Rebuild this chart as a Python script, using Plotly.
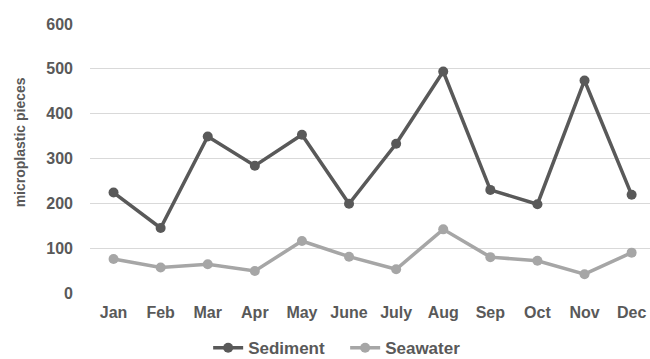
import plotly.graph_objects as go

months = ["Jan", "Feb", "Mar", "Apr", "May", "June", "July", "Aug", "Sep", "Oct", "Nov", "Dec"]
sediment = [224, 145, 349, 284, 353, 199, 333, 494, 230, 198, 474, 219]
seawater = [76, 57, 64, 49, 116, 81, 53, 142, 80, 72, 42, 90]
y_ticks = [0, 100, 200, 300, 400, 500, 600]

FONT = "Liberation Sans, Arial, sans-serif"
TEXT_COLOR = "#595959"

fig = go.Figure()
fig.add_trace(go.Scatter(
    x=months, y=sediment, name="<b>Sediment</b>", mode="lines+markers",
    line=dict(color="#595959", width=3.5),
    marker=dict(color="#595959", size=10),
))
fig.add_trace(go.Scatter(
    x=months, y=seawater, name="<b>Seawater</b>", mode="lines+markers",
    line=dict(color="#A6A6A6", width=3.5),
    marker=dict(color="#A6A6A6", size=10),
))

# Rotated axis title placed as an annotation so it can sit slightly above centre
fig.add_annotation(
    text="<b>microplastic pieces</b>", textangle=-90,
    xref="paper", x=-0.125, xanchor="center",
    yref="paper", y=0.56, yanchor="middle",
    showarrow=False, font=dict(size=14, color=TEXT_COLOR, family=FONT),
)

fig.update_layout(
    width=650, height=359,
    margin=dict(l=90, r=0, t=24, b=66),
    paper_bgcolor="white", plot_bgcolor="white",
    font=dict(family=FONT, size=16, color=TEXT_COLOR),
    showlegend=True,
    legend=dict(
        orientation="h", xref="container", x=0.531, xanchor="center",
        yref="container", y=0.03, yanchor="middle",
        font=dict(size=17, color=TEXT_COLOR), itemwidth=30,
        entrywidth=92,
    ),
    xaxis=dict(
        type="category", range=[-0.5, 11.39],
        showgrid=False, zeroline=False, showline=False,
        tickfont=dict(size=16, family=FONT, color=TEXT_COLOR, weight="bold"),
        ticks="", ticklabelstandoff=8,
    ),
    yaxis=dict(
        range=[0, 600], tickvals=y_ticks,
        showgrid=True, gridcolor="#D9D9D9", gridwidth=1,
        zeroline=False, showline=False,
        tickfont=dict(size=16, family=FONT, color=TEXT_COLOR, weight="bold"),
        ticks="", ticklabelstandoff=16,
    ),
)

fig.write_html("out.html")
